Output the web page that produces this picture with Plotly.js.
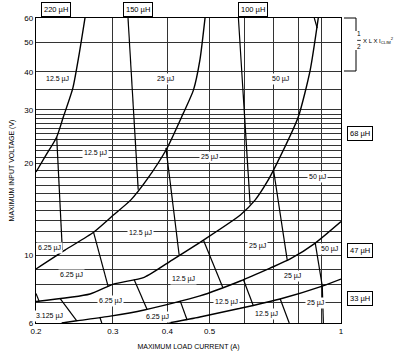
<!DOCTYPE html>
<html>
<head>
<meta charset="utf-8">
<script src="https://cdn.plot.ly/plotly-3.0.1.min.js"></script>
<style>html,body{margin:0;padding:0;background:#fff;}#chart{width:400px;height:353px;}</style>
</head>
<body>
<div id="chart"></div>
<script>
// ---- axis ticks ----
const xTickVals = [0.2, 0.3, 0.4, 0.5, 1];
const xTickText = ['0.2', '0.3', '0.4', '0.5', '1'];
const xGridVals = [0.6, 0.7, 0.8, 0.9];
const yTickVals = [6, 10, 20, 30, 40, 50, 60];
const yGridVals = [7, 8, 9, 11, 12, 13, 14, 15, 16, 17, 18, 19,
  21, 22, 23, 24, 25, 26, 27, 28, 29, 35];

// ---- inductance boundary curves (load current A, input voltage V) ----
const c220I = [0.2, 0.2108, 0.223, 0.231, 0.243, 0.251, 0.259];
const c220V = [18.76, 21.3, 24.4, 28.4, 35.4, 45.4, 60];
const c150I = [0.2, 0.233, 0.271, 0.301, 0.330, 0.359, 0.399, 0.435, 0.459, 0.475, 0.488];
const c150V = [9.02, 10.4, 11.9, 13.56, 15.2, 17.7, 22.4, 29.2, 34.8, 43.7, 60];
const c100I = [0.2, 0.266, 0.301, 0.354, 0.410, 0.483, 0.588, 0.636, 0.677, 0.714, 0.798, 0.850, 0.887];
const c100V = [7.06, 7.47, 8.05, 8.47, 9.65, 11.2, 13.56, 15.2, 17.4, 20.1, 28.4, 40.5, 60];
const c68I = [0.229, 0.248, 0.296, 0.354, 0.475, 0.588, 0.688, 0.765, 0.873, 1.0];
const c68V = [6.0, 6.10, 6.32, 6.62, 7.36, 8.24, 9.08, 9.73, 10.97, 12.9];
const c47I = [0.402, 0.475, 0.629, 0.725, 0.906, 1.0];
const c47V = [6.0, 6.28, 6.85, 7.19, 7.93, 8.36];

// ---- constant-energy boundary segments ----
const eLineI = [
  [0.2231, 0.2298], [0.325, 0.343], [0.271, 0.2925], [0.397, 0.426],
  [0.582, 0.619], [0.8685, 0.882], [0.2, 0.2035], [0.227, 0.248],
  [0.3356, 0.3595], [0.484, 0.536], [0.7005, 0.753], [0.280, 0.283],
  [0.428, 0.444], [0.598, 0.630], [0.873, 0.906], [0.7255, 0.761], [0.906, 0.911]
];
const eLineV = [
  [24.4, 10.4], [60, 16.4], [11.9, 7.93], [22.5, 9.95],
  [60, 14.7], [60, 55.6], [7.5, 7.05], [7.22, 6.10],
  [8.33, 6.64], [11.2, 7.84], [19.05, 9.65], [6.28, 6.0],
  [7.09, 6.14], [8.30, 6.82], [10.97, 7.93], [7.19, 6.0], [7.93, 6.0]
];

// ---- energy labels ----
const eLabelText = ['12.5 µJ', '25 µJ', '50 µJ', '12.5 µJ', '25 µJ', '50 µJ',
  '6.25 µJ', '12.5 µJ', '25 µJ', '50 µJ', '6.25 µJ', '12.5 µJ', '25 µJ',
  '6.25 µJ', '12.5 µJ', '25 µJ', '3.125 µJ', '6.25 µJ', '12.5 µJ'];
const eLabelI = [0.2235, 0.397, 0.7255, 0.2731, 0.4987, 0.8823,
  0.2142, 0.3464, 0.6426, 0.9398, 0.2406, 0.4348, 0.773,
  0.2956, 0.5456, 0.873, 0.2142, 0.379, 0.6739];
const eLabelV = [37.9, 37.9, 37.9, 21.7, 21.0, 18.07,
  10.6, 11.8, 10.7, 10.5, 8.62, 8.36, 8.56,
  7.09, 7.03, 6.98, 6.32, 6.28, 6.42];

// ---- inductance labels ----
const topInductors = ['220 µH', '150 µH', '100 µH'];
const rightInductors = ['68 µH', '47 µH', '33 µH'];

const FONT = 'Liberation Sans, Arial, sans-serif';
const traces = [];
[[c220I, c220V], [c150I, c150V], [c100I, c100V], [c68I, c68V], [c47I, c47V]].forEach(c => {
  traces.push({x: c[0], y: c[1], type: 'scatter', mode: 'lines',
    line: {color: '#000', width: 1.4, shape: 'spline', smoothing: 0.6}, hoverinfo: 'skip'});
});
eLineI.forEach((xs, i) => {
  traces.push({x: xs, y: eLineV[i], type: 'scatter', mode: 'lines',
    line: {color: '#000', width: 1.2}, hoverinfo: 'skip'});
});

const annotations = [];
eLabelText.forEach((t, i) => {
  annotations.push({x: Math.log10(eLabelI[i]), y: Math.log10(eLabelV[i]), xref: 'x', yref: 'y',
    xanchor: 'center', yanchor: 'middle',
    text: t, showarrow: false, bgcolor: '#fff', borderpad: 1,
    font: {family: FONT, size: 7, color: '#000'}});
});
const topX = [0.0656, 0.3344, 0.7115];
topInductors.forEach((t, i) => {
  annotations.push({x: topX[i], y: 1.0295, xref: 'paper', yref: 'paper', text: t,
    xanchor: 'center', yanchor: 'middle',
    showarrow: false, bgcolor: '#fff', bordercolor: '#000', borderwidth: 1, borderpad: 2,
    font: {family: FONT, size: 7.5, color: '#000'}});
});
const rightY = [0.6197, 0.2377, 0.0797];
rightInductors.forEach((t, i) => {
  annotations.push({x: 1.0623, y: rightY[i], xref: 'paper', yref: 'paper', text: t,
    xanchor: 'center', yanchor: 'middle',
    showarrow: false, bgcolor: '#fff', bordercolor: '#000', borderwidth: 1, borderpad: 2,
    font: {family: FONT, size: 7.5, color: '#000'}});
});
// energy formula next to bracket
annotations.push({x: 1.059, y: 0.948, xref: 'paper', yref: 'paper', text: '1', showarrow: false,
  xanchor: 'center', yanchor: 'middle', font: {family: FONT, size: 6.5, color: '#000'}});
annotations.push({x: 1.059, y: 0.905, xref: 'paper', yref: 'paper', text: '2', showarrow: false,
  xanchor: 'center', yanchor: 'middle', font: {family: FONT, size: 6.5, color: '#000'}});
annotations.push({x: 1.066, y: 0.926, xref: 'paper', yref: 'paper', xanchor: 'left', yanchor: 'middle',
  text: 'X L X I<sub>CLIM</sub><sup>2</sup>', showarrow: false,
  font: {family: FONT, size: 6, color: '#000'}});

const shapes = [
  {type: 'line', xref: 'paper', yref: 'paper', x0: 1.0098, x1: 1.0492, y0: 1.0, y1: 1.0, line: {color: '#000', width: 1}},
  {type: 'line', xref: 'paper', yref: 'paper', x0: 1.0492, x1: 1.0492, y0: 1.0, y1: 0.9574, line: {color: '#000', width: 1}},
  {type: 'line', xref: 'paper', yref: 'paper', x0: 1.0492, x1: 1.0492, y0: 0.8951, y1: 0.8262, line: {color: '#000', width: 1}},
  {type: 'line', xref: 'paper', yref: 'paper', x0: 1.0098, x1: 1.0492, y0: 0.8262, y1: 0.8262, line: {color: '#000', width: 1}},
  {type: 'line', xref: 'paper', yref: 'paper', x0: 1.053, x1: 1.065, y0: 0.9266, y1: 0.9266, line: {color: '#000', width: 0.8}}
];

const layout = {
  width: 400, height: 353,
  margin: {l: 36, r: 59, t: 18, b: 30, pad: 0},
  paper_bgcolor: '#fff', plot_bgcolor: '#fff',
  showlegend: false,
  font: {family: FONT, size: 8, color: '#000'},
  xaxis: {
    type: 'log', range: [Math.log10(0.2), 0], tickmode: 'array',
    tickvals: xTickVals, ticktext: xTickText,
    showgrid: true, gridcolor: '#333', gridwidth: 1,
    minor: {tickmode: 'array', tickvals: xGridVals, showgrid: true, gridcolor: '#333', gridwidth: 1, ticks: ''},
    showline: true, mirror: true, linecolor: '#000', linewidth: 1.2,
    ticks: '', zeroline: false, automargin: false,
    tickfont: {family: FONT, size: 8, color: '#000'},
    title: {text: 'MAXIMUM LOAD CURRENT (A)', font: {family: FONT, size: 7, color: '#000'}, standoff: 9}
  },
  yaxis: {
    type: 'log', range: [Math.log10(6), Math.log10(60)], tickmode: 'array',
    tickvals: yTickVals, ticktext: yTickVals.map(String),
    showgrid: true, gridcolor: '#333', gridwidth: 1,
    minor: {tickmode: 'array', tickvals: yGridVals, showgrid: true, gridcolor: '#333', gridwidth: 1, ticks: ''},
    showline: true, mirror: true, linecolor: '#000', linewidth: 1.2,
    ticks: '', zeroline: false, automargin: false,
    tickfont: {family: FONT, size: 8, color: '#000'},
    title: {text: 'MAXIMUM INPUT VOLTAGE (V)', font: {family: FONT, size: 7, color: '#000'}, standoff: 8}
  },
  annotations: annotations,
  shapes: shapes
};

Plotly.newPlot('chart', traces, layout, {staticPlot: true, displayModeBar: false});
</script>
</body>
</html>
